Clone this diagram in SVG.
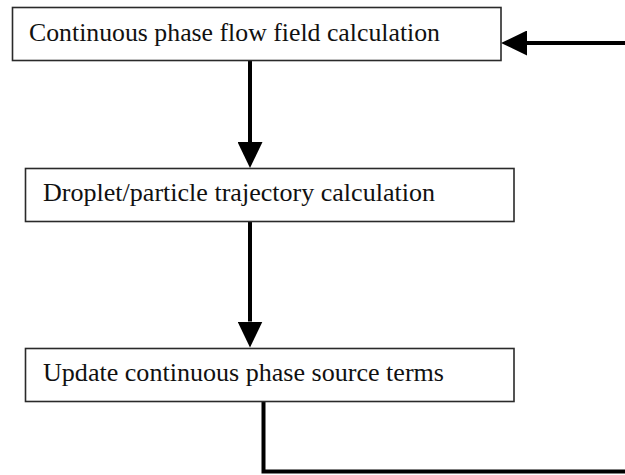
<svg xmlns="http://www.w3.org/2000/svg" width="625" height="475" viewBox="0 0 625 475">
  <style>
    .box { fill: #ffffff; stroke: #2a2a2a; stroke-width: 1.6; }
    .label { font-family: 'Liberation Serif', 'DejaVu Serif', 'Times New Roman', serif; font-size: 26px; fill: #111111; }
    .flow { fill: none; stroke: #000000; stroke-width: 4; }
  </style>
  <defs>
    <marker id="head" viewBox="0 0 26 25" refX="0" refY="12.5" markerWidth="26" markerHeight="25" markerUnits="userSpaceOnUse" orient="auto">
      <path d="M0,0 L26,12.5 L0,25 Z" fill="#000000"/>
    </marker>
  </defs>

  <rect width="625" height="475" fill="#ffffff"/>

  <g id="connectors">
    <path class="flow" d="M250,60.5 V142" marker-end="url(#head)"/>
    <path class="flow" d="M250,221.5 V321.5" marker-end="url(#head)"/>
    <path class="flow" d="M263.5,401.5 V471.5 H625"/>
    <path class="flow" d="M625,43 H527" marker-end="url(#head)"/>
  </g>

  <g id="flow-field">
    <rect class="box" x="12.5" y="7.5" width="488.5" height="53"/>
    <text class="label" x="29" y="41" textLength="411" lengthAdjust="spacingAndGlyphs">Continuous phase flow field calculation</text>
  </g>

  <g id="trajectory">
    <rect class="box" x="25.5" y="168.5" width="488.5" height="53"/>
    <text class="label" x="43" y="201" textLength="392" lengthAdjust="spacingAndGlyphs">Droplet/particle trajectory calculation</text>
  </g>

  <g id="source-terms">
    <rect class="box" x="25.5" y="348.5" width="488.5" height="53"/>
    <text class="label" x="43" y="381" textLength="401" lengthAdjust="spacingAndGlyphs">Update continuous phase source terms</text>
  </g>
</svg>
